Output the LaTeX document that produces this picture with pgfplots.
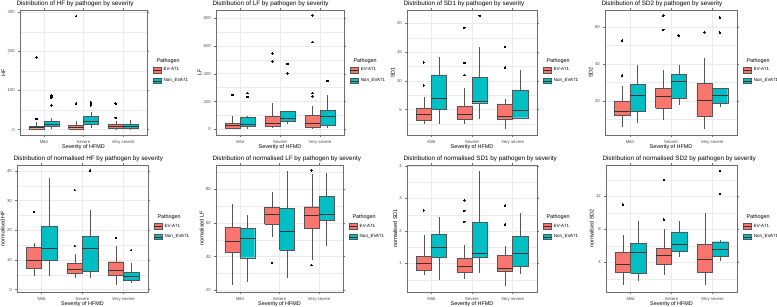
\documentclass[border=0pt]{standalone}
\usepackage{fontspec}
\setmainfont{Liberation Sans}
\usepackage{pgfplots}
\pgfplotsset{compat=1.18}

\definecolor{evc}{HTML}{F8766D}
\definecolor{nonc}{HTML}{00BFC4}
\definecolor{boxc}{HTML}{555555}
\definecolor{medc}{HTML}{333333}
\definecolor{gridc}{HTML}{EBEBEB}
\definecolor{bordc}{HTML}{6E6E6E}
\definecolor{labc}{HTML}{4D4D4D}

\pgfplotsset{
  pan/.style={
    scale only axis, anchor=south west, clip=false,
    xmin=0.4, xmax=3.6,
    xtick={1,2,3}, xticklabels={Mild,Severe,Very severe},
    grid=both,
    major grid style={draw=gridc, line width=0.45pt},
    minor grid style={draw=gridc, line width=0.25pt},
    axis line style={draw=bordc, line width=0.45pt},
    tick style={draw=bordc, line width=0.35pt},
    tick align=outside, major tick length=1.6pt, minor tick length=0.01pt,
    /pgf/number format/assume math mode=true,
    ticklabel style={font=\fontsize{4.3}{5}\selectfont, text=labc},
    xlabel={Severity of HFMD},
    label style={font=\fontsize{5.4}{6}\selectfont},
    xlabel style={yshift=6pt},
    ylabel style={yshift=-4.5pt},
    title style={at={(0,1)}, anchor=south west, xshift=-7pt, yshift=-6pt,
                 font=\fontsize{6.3}{7}\selectfont},
    legend style={at={(1,0.476)}, anchor=west, xshift=6pt, draw=none, fill=none,
                  inner sep=0pt, font=\fontsize{4.5}{5}\selectfont, row sep=2pt},
    legend cell align=left,
  },
  wline/.style={draw=boxc, line width=0.35pt, mark=none},
  boxline/.style={draw=boxc, line width=0.35pt, mark=none},
  medline/.style={draw=medc, line width=0.9pt, mark=none},
  outl/.style={only marks, mark=*, mark size=0.75pt,
               mark options={draw=black, fill=black, line width=0pt}},
}

% one box: fill, left, centre, right, lower whisker, Q1, median, Q3, upper whisker
\newcommand{\bx}[9]{%
  \addplot[wline] coordinates {(#3,#5) (#3,#6)};
  \addplot[wline] coordinates {(#3,#8) (#3,#9)};
  \addplot[boxline, fill=#1] coordinates {(#2,#6) (#4,#6) (#4,#8) (#2,#8) (#2,#6)};
  \addplot[medline] coordinates {(#2,#7) (#4,#7)};
}
% boxes dodged inside each severity group
\newcommand{\mE}[5]{\bx{evc}{0.625}{0.8125}{1.0}{#1}{#2}{#3}{#4}{#5}}
\newcommand{\mN}[5]{\bx{nonc}{1.0}{1.1875}{1.375}{#1}{#2}{#3}{#4}{#5}}
\newcommand{\sE}[5]{\bx{evc}{1.625}{1.8125}{2.0}{#1}{#2}{#3}{#4}{#5}}
\newcommand{\sN}[5]{\bx{nonc}{2.0}{2.1875}{2.375}{#1}{#2}{#3}{#4}{#5}}
\newcommand{\vE}[5]{\bx{evc}{2.625}{2.8125}{3.0}{#1}{#2}{#3}{#4}{#5}}
\newcommand{\vN}[5]{\bx{nonc}{3.0}{3.1875}{3.375}{#1}{#2}{#3}{#4}{#5}}
\newcommand{\ol}[1]{\addplot[outl] coordinates {#1};}

\newcommand{\pathlegend}{%
  \addlegendimage{legend image code/.code={%
    \fill[evc] (0pt,-2.7pt) rectangle (8pt,2.7pt);
    \draw[draw=boxc, line width=0.3pt] (0pt,-2.7pt) rectangle (8pt,2.7pt);
    \draw[draw=medc, line width=0.55pt] (0pt,0pt) -- (8pt,0pt);}}
  \addlegendentry{EV-A71}
  \addlegendimage{legend image code/.code={%
    \fill[nonc] (0pt,-2.7pt) rectangle (8pt,2.7pt);
    \draw[draw=boxc, line width=0.3pt] (0pt,-2.7pt) rectangle (8pt,2.7pt);
    \draw[draw=medc, line width=0.55pt] (0pt,0pt) -- (8pt,0pt);}}
  \addlegendentry{Non\_EVA71}
  \node[anchor=west, xshift=6pt, font=\fontsize{5.4}{6}\selectfont] at (rel axis cs:1,0.59) {Pathogen};
}

\begin{document}
\begin{tikzpicture}
\useasboundingbox (0,0) rectangle (777pt,307pt);

% ---------- HF ----------
\begin{axis}[pan, at={(20pt,172pt)}, width=127pt, height=125pt,
  title={Distribution of HF by pathogen by severity}, ylabel={HF},
  ymin=-14, ymax=306, ytick={0,100,200,300}, minor ytick={50,150,250}]
\pathlegend
\mE{0}{2}{5}{9}{20}    \ol{(0.8125,185) (0.8125,27)}
\mN{1}{8}{14}{21}{30}  \ol{(1.1875,87) (1.1875,84) (1.1875,81) (1.1875,62)}
\sE{0}{2}{6}{10}{22}   \ol{(1.8125,290) (1.8125,67)}
\sN{3}{13}{21}{34}{45} \ol{(2.1875,70) (2.1875,66) (2.1875,62)}
\vE{0}{3}{7}{13}{22}   \ol{(2.8125,66) (2.8125,30)}
\vN{0}{3}{9}{14}{24}
\end{axis}

% ---------- LF ----------
\begin{axis}[pan, at={(216pt,172pt)}, width=128pt, height=125pt,
  title={Distribution of LF by pathogen by severity}, ylabel={LF},
  ymin=-40, ymax=857, ytick={0,200,400,600,800}, minor ytick={100,300,500,700}]
\pathlegend
\mE{0}{7}{28}{46}{93}      \ol{(0.8125,248)}
\mN{5}{21}{39}{88}{97}     \ol{(1.1875,260) (1.1875,234)}
\sE{8}{23}{46}{93}{193}    \ol{(1.8125,545) (1.8125,487)}
\sN{40}{58}{81}{128}{135}  \ol{(2.1875,471) (2.1875,401)}
\vE{0}{16}{42}{100}{170}   \ol{(2.8125,817) (2.8125,626) (2.8125,260) (2.8125,237)}
\vN{8}{28}{93}{135}{248}   \ol{(3.1875,348)}
\end{axis}

% ---------- SD1 ----------
\begin{axis}[pan, at={(407pt,172pt)}, width=130pt, height=125pt,
  title={Distribution of SD1 by pathogen by severity}, ylabel={SD1},
  ymin=0.6, ymax=22.3, ytick={5,10,15,20}, minor ytick={2.5,7.5,12.5,17.5}]
\pathlegend
\mE{2.5}{3.1}{4.2}{5.3}{7.2}    \ol{(0.8125,13.2) (0.8125,9.2)}
\mN{2.5}{5.1}{6.9}{11.05}{14.1}
\sE{2.5}{3.3}{4.2}{5.6}{8.7}    \ol{(1.8125,19.2) (1.8125,13.1) (1.8125,11.0)}
\sN{3.4}{6.2}{6.4}{10.6}{15.8}  \ol{(2.1875,21.3)}
\vE{1.6}{3.4}{3.8}{6.0}{6.9}    \ol{(2.8125,15.9) (2.8125,12.3)}
\vN{3.3}{3.6}{4.9}{8.3}{11.9}
\end{axis}

% ---------- SD2 ----------
\begin{axis}[pan, at={(605pt,172pt)}, width=132pt, height=125pt,
  title={Distribution of SD2 by pathogen by severity}, ylabel={SD2},
  ymin=1.4, ymax=69.3, ytick={20,40,60}, minor ytick={10,30,50}]
\pathlegend
\mE{5.8}{12}{14.3}{20}{28}        \ol{(0.8125,52.7) (0.8125,33.8)}
\mN{7.7}{14.1}{22.7}{28.9}{39.4}
\sE{9.7}{15.9}{22.3}{26.6}{36.5}  \ol{(1.8125,66.2) (1.8125,58.5)}
\sN{17.7}{21.6}{30.5}{34.2}{39.6} \ol{(2.1875,55.4)}
\vE{4.5}{11.6}{20}{29.4}{43.1}    \ol{(2.8125,57)}
\vN{16.4}{18.8}{22.7}{26.8}{26.8} \ol{(3.1875,65.3) (3.1875,57)}
\end{axis}

% ---------- normalised HF ----------
\begin{axis}[pan, at={(17pt,15pt)}, width=131pt, height=127pt,
  title={Distribution of normalised HF by pathogen by severity}, ylabel={normalised HF},
  ymin=-0.8, ymax=42, ytick={0,10,20,30,40}, minor ytick={5,15,25,35}]
\pathlegend
\mE{4.6}{7.2}{9.7}{14.3}{15.8}  \ol{(0.8125,26.2)}
\mN{4.7}{9.8}{13.8}{21.3}{37.5}
\sE{3.9}{5.5}{6.8}{8.8}{12.1}   \ol{(1.8125,33.5) (1.8125,14.7)}
\sN{3.9}{6.1}{14}{18}{26.8}     \ol{(2.1875,40.1)}
\vE{1.7}{5}{6.4}{9.4}{14.7}     \ol{(2.8125,17.4)}
\vN{2.4}{3.3}{4.6}{5.8}{9}      \ol{(3.1875,13.3)}
\end{axis}

% ---------- normalised LF ----------
\begin{axis}[pan, at={(216pt,15pt)}, width=127pt, height=127pt,
  title={Distribution of normalised LF by pathogen by severity}, ylabel={normalised LF},
  ymin=19, ymax=94.5, ytick={20,40,60,80}, minor ytick={30,50,70,90}]
\pathlegend
\mE{23.3}{42.7}{48.9}{57.3}{71.3}
\mN{25.2}{39.4}{51.1}{56.9}{65}
\sE{51.8}{59.2}{65}{69.5}{78.3}   \ol{(1.8125,36.3)}
\sN{27.6}{44.1}{55}{68.9}{90.9}
\vE{37.9}{56.7}{64.5}{69.7}{88.9} \ol{(2.8125,91.3) (2.8125,35)}
\vN{46.6}{61.6}{65}{75.7}{89.9}
\end{axis}

% ---------- normalised SD1 ----------
\begin{axis}[pan, at={(407pt,15pt)}, width=130pt, height=127pt,
  title={Distribution of normalised SD1 by pathogen by severity}, ylabel={normalised SD1},
  ymin=0.12, ymax=4.03, ytick={1,2,3,4}, minor ytick={0.5,1.5,2.5,3.5}]
\pathlegend
\mE{0.64}{0.8}{1.0}{1.22}{1.86}   \ol{(0.8125,2.63)}
\mN{0.49}{1.2}{1.49}{1.89}{2.42}
\sE{0.52}{0.73}{0.92}{1.15}{1.58} \ol{(1.8125,2.94) (1.8125,2.62) (1.8125,2.28)}
\sN{0.72}{1.18}{1.3}{2.27}{3.83}
\vE{0.3}{0.77}{0.85}{1.25}{1.53}  \ol{(2.8125,2.78) (2.8125,2.2)}
\vN{0.68}{0.9}{1.3}{1.83}{2.55}
\end{axis}

% ---------- normalised SD2 ----------
\begin{axis}[pan, at={(606pt,15pt)}, width=131pt, height=127pt,
  title={Distribution of normalised SD2 by pathogen by severity}, ylabel={normalised SD2},
  ymin=0.4, ymax=15.8, ytick={4,8,12}, minor ytick={2,6,10,14}]
\pathlegend
\mE{1.3}{2.8}{3.8}{5.2}{7.3}  \ol{(0.8125,11)}
\mN{1.7}{2.7}{5.2}{6.3}{9}
\sE{2.5}{3.8}{4.8}{5.7}{8}    \ol{(1.8125,14) (1.8125,9.2)}
\sN{4.7}{5.3}{6.2}{7.7}{9}
\vE{1.3}{2.8}{4.4}{6.2}{10}
\vN{4.2}{4.7}{5.6}{6.5}{6.7}  \ol{(3.1875,15.1) (3.1875,12.3)}
\end{axis}
\end{tikzpicture}
\end{document}
